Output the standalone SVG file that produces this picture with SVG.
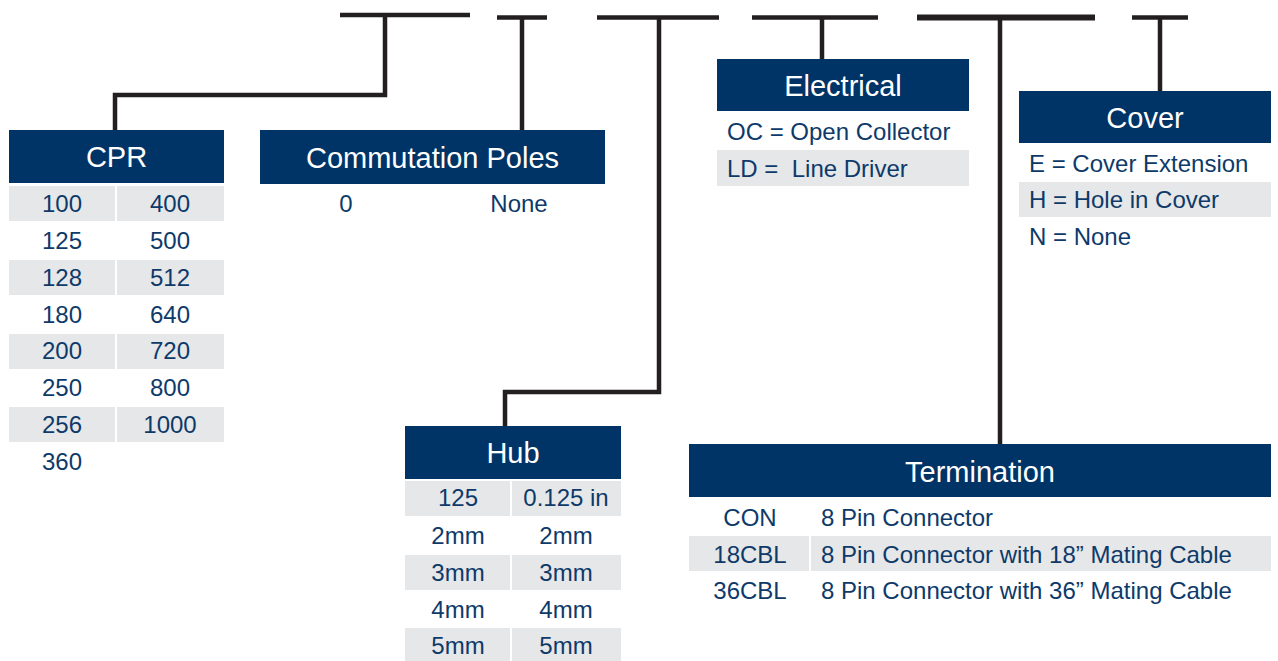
<svg xmlns="http://www.w3.org/2000/svg" width="1278" height="661" viewBox="0 0 1278 661">
<style>
.hd{fill:#003466}
.g{fill:#e6e7e8}
.ht{font-family:"Liberation Sans",Arial,sans-serif;font-size:29px;fill:#ffffff;text-anchor:middle}
.t{font-family:"Liberation Sans",Arial,sans-serif;font-size:24px;fill:#0e3a6a}
.c{text-anchor:middle}
.ln{fill:none;stroke:#231f20;stroke-width:4.5}
</style>
<rect width="1278" height="661" fill="#ffffff"/>
<g id="connectors">
<path class="ln" d="M340 15 H470"/>
<path class="ln" d="M385 15 V95 H115 V130"/>
<path class="ln" d="M497 17.5 H547"/>
<path class="ln" d="M522 17.5 V130"/>
<path class="ln" d="M597 17.5 H719"/>
<path class="ln" d="M659 17.5 V392 H505 V426"/>
<path class="ln" d="M752 17.5 H878"/>
<path class="ln" d="M822 17.5 V59"/>
<path class="ln" d="M917 17.5 H1095" style="stroke-width:6"/>
<path class="ln" d="M1000 17.5 V444"/>
<path class="ln" d="M1132 17.5 H1188"/>
<path class="ln" d="M1160 17.5 V91"/>
</g>
<g id="cpr">
<rect class="hd" x="9" y="130" width="215" height="53"/>
<text class="ht" x="116.5" y="167">CPR</text>
<rect class="g" x="9" y="186" width="106" height="35"/><rect class="g" x="117" y="186" width="107" height="35"/>
<rect class="g" x="9" y="260" width="106" height="35"/><rect class="g" x="117" y="260" width="107" height="35"/>
<rect class="g" x="9" y="334" width="106" height="35"/><rect class="g" x="117" y="334" width="107" height="35"/>
<rect class="g" x="9" y="407" width="106" height="35"/><rect class="g" x="117" y="407" width="107" height="35"/>
<text class="t c" x="62" y="211.5">100</text><text class="t c" x="170" y="211.5">400</text>
<text class="t c" x="62" y="248.5">125</text><text class="t c" x="170" y="248.5">500</text>
<text class="t c" x="62" y="285.5">128</text><text class="t c" x="170" y="285.5">512</text>
<text class="t c" x="62" y="322.5">180</text><text class="t c" x="170" y="322.5">640</text>
<text class="t c" x="62" y="358.5">200</text><text class="t c" x="170" y="358.5">720</text>
<text class="t c" x="62" y="395.5">250</text><text class="t c" x="170" y="395.5">800</text>
<text class="t c" x="62" y="432.5">256</text><text class="t c" x="170" y="432.5">1000</text>
<text class="t c" x="62" y="469.5">360</text>
</g>
<g id="commutation">
<rect class="hd" x="260" y="130" width="345" height="54"/>
<text class="ht" x="432.5" y="167.5">Commutation Poles</text>
<text class="t c" x="346" y="211.5">0</text>
<text class="t c" x="519" y="211.5">None</text>
</g>
<g id="electrical">
<rect class="hd" x="717" y="59" width="252" height="52"/>
<text class="ht" x="843" y="95.5">Electrical</text>
<rect class="g" x="717" y="150" width="252" height="36"/>
<text class="t" x="727" y="139.5">OC = Open Collector</text>
<text class="t" x="727" y="176.5" xml:space="preserve">LD =  Line Driver</text>
</g>
<g id="cover">
<rect class="hd" x="1019" y="91" width="252" height="52"/>
<text class="ht" x="1145" y="127.5">Cover</text>
<rect class="g" x="1019" y="182" width="252" height="35"/>
<text class="t" x="1029" y="171.5">E = Cover Extension</text>
<text class="t" x="1029" y="207.5">H = Hole in Cover</text>
<text class="t" x="1029" y="244.5">N = None</text>
</g>
<g id="hub">
<rect class="hd" x="405" y="426" width="216" height="53"/>
<text class="ht" x="513" y="462.5">Hub</text>
<rect class="g" x="405" y="481" width="105" height="35"/><rect class="g" x="512" y="481" width="109" height="35"/>
<rect class="g" x="405" y="555" width="105" height="35"/><rect class="g" x="512" y="555" width="109" height="35"/>
<rect class="g" x="405" y="628" width="105" height="33"/><rect class="g" x="512" y="628" width="109" height="33"/>
<text class="t c" x="458" y="505.5">125</text><text class="t c" x="566" y="505.5">0.125 in</text>
<text class="t c" x="458" y="543.5">2mm</text><text class="t c" x="566" y="543.5">2mm</text>
<text class="t c" x="458" y="580.5">3mm</text><text class="t c" x="566" y="580.5">3mm</text>
<text class="t c" x="458" y="617.5">4mm</text><text class="t c" x="566" y="617.5">4mm</text>
<text class="t c" x="458" y="653.5">5mm</text><text class="t c" x="566" y="653.5">5mm</text>
</g>
<g id="termination">
<rect class="hd" x="689" y="444" width="582" height="53"/>
<text class="ht" x="980" y="481.5">Termination</text>
<rect class="g" x="689" y="536" width="120" height="35"/><rect class="g" x="811" y="536" width="460" height="35"/>
<text class="t c" x="750" y="525.5">CON</text><text class="t" x="821" y="525.5">8 Pin Connector</text>
<text class="t c" x="750" y="562.5">18CBL</text><text class="t" x="821" y="562.5">8 Pin Connector with 18” Mating Cable</text>
<text class="t c" x="750" y="598.5">36CBL</text><text class="t" x="821" y="598.5">8 Pin Connector with 36” Mating Cable</text>
</g>
</svg>
